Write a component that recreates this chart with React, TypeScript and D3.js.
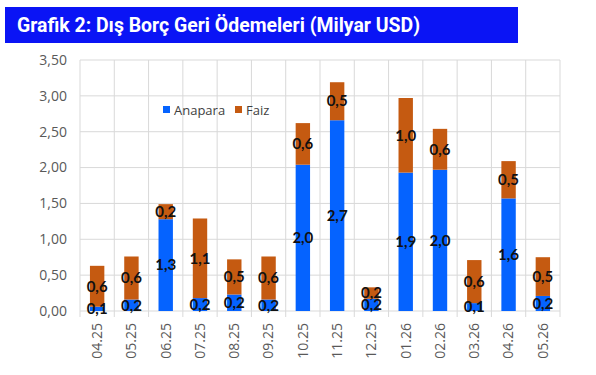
import * as d3 from 'd3';
import * as React from 'react';

const WIDTH = 596;
const HEIGHT = 375;

const TITLE = 'Grafik 2: Dış Borç Geri Ödemeleri (Milyar USD)';
const months = ['04.25', '05.25', '06.25', '07.25', '08.25', '09.25', '10.25', '11.25', '12.25', '01.26', '02.26', '03.26', '04.26', '05.26'];
const anapara = [0.06, 0.16, 1.28, 0.18, 0.23, 0.16, 2.04, 2.66, 0.17, 1.93, 1.97, 0.11, 1.57, 0.21];
const faiz = [0.57, 0.6, 0.21, 1.11, 0.49, 0.6, 0.58, 0.53, 0.16, 1.04, 0.57, 0.6, 0.52, 0.54];
const yTicks = [0, 0.5, 1, 1.5, 2, 2.5, 3, 3.5];

const BLUE = '#0563ff';
const ORANGE = '#c55a11';
const GRID = '#d9d9d9';

const fmt = (v: number, digits: number) => v.toFixed(digits).replace('.', ',');

const App = () => {
  const left = 80;
  const right = 560;
  const top = 60;
  const bottom = 311;

  const x = d3.scaleBand<string>().domain(months).range([left, right]).paddingInner(0).paddingOuter(0);
  const y = d3.scaleLinear().domain([0, 3.5]).range([bottom, top]);
  const barW = x.bandwidth() * 0.42;

  const stacked = months.map((m, i) => ({ m, a: anapara[i], f: faiz[i] }));

  const font = '"Open Sans", Lato, sans-serif';
  const labelFont = 'Lato, "Open Sans", sans-serif';

  return (
    <svg width={WIDTH} height={HEIGHT} style={{ position: 'absolute', left: 0, top: 0, background: '#fff' }}>
      <rect x={5} y={7} width={513} height={36} fill="#0a14f5" />
      <text
        x={17}
        y={32}
        fill="#fff"
        fontFamily="Roboto, sans-serif"
        fontWeight="bold"
        fontSize={20}
        textLength={403}
        lengthAdjust="spacingAndGlyphs"
      >
        {TITLE}
      </text>

      {/* gridlines */}
      {yTicks.map(t => (
        <line key={t} x1={left} x2={right} y1={y(t)} y2={y(t)} stroke={GRID} strokeWidth={1} />
      ))}
      {[...months.map(m => x(m) as number), right].map((v, i) => (
        <line key={i} x1={v} x2={v} y1={top} y2={bottom + 6} stroke={GRID} strokeWidth={1} />
      ))}

      {/* y labels */}
      {yTicks.map(t => (
        <text key={t} x={67} y={y(t)} dy="0.35em" textAnchor="end" fontFamily={font} fontSize={14} fill="#595959">
          {fmt(t, 2)}
        </text>
      ))}

      {/* bars */}
      {stacked.map(d => {
        const cx = (x(d.m) as number) + x.bandwidth() / 2;
        return (
          <g key={d.m}>
            <rect x={cx - barW / 2} y={y(d.a)} width={barW} height={bottom - y(d.a)} fill={BLUE} />
            <rect x={cx - barW / 2} y={y(d.a + d.f)} width={barW} height={y(d.a) - y(d.a + d.f)} fill={ORANGE} />
            <text x={cx} y={(y(0) + y(d.a)) / 2} dy="0.35em" textAnchor="middle" fontFamily={labelFont} fontWeight="bold" fontSize={15} fill="#111">
              {fmt(d.a, 1)}
            </text>
            <text x={cx} y={(y(d.a) + y(d.a + d.f)) / 2} dy="0.35em" textAnchor="middle" fontFamily={labelFont} fontWeight="bold" fontSize={15} fill="#111">
              {fmt(d.f, 1)}
            </text>
            <text
              transform={`translate(${cx},${323}) rotate(-90)`}
              dy="0.35em"
              textAnchor="end"
              fontFamily={font}
              fontSize={14}
              fill="#595959"
            >
              {d.m}
            </text>
          </g>
        );
      })}

      {/* legend */}
      <rect x={163} y={106} width={7} height={7} fill={BLUE} />
      <text x={174} y={110} dy="0.35em" fontFamily={font} fontSize={13} fill="#404040">Anapara</text>
      <rect x={235} y={106} width={7} height={7} fill={ORANGE} />
      <text x={246} y={110} dy="0.35em" fontFamily={font} fontSize={13} fill="#404040">Faiz</text>
    </svg>
  );
};

export default App;
